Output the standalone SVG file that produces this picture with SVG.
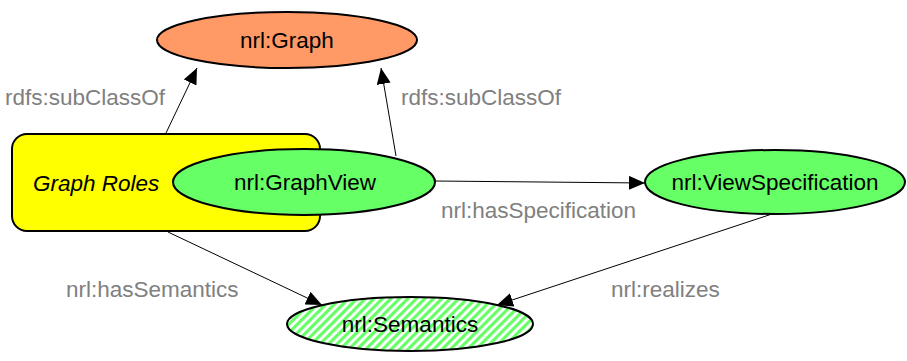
<svg xmlns="http://www.w3.org/2000/svg" width="907" height="361" viewBox="0 0 907 361">
<style>
.node{stroke:#000;stroke-width:2}
.lbl{font-family:"Liberation Sans",Arial,sans-serif;font-size:22.5px;fill:#000;text-anchor:middle}
.edge{stroke:#000;stroke-width:1;fill:none;marker-end:url(#arr)}
.elbl{font-family:"Liberation Sans",Arial,sans-serif;font-size:22.5px;fill:#808080}
</style>
<defs>
<marker id="arr" viewBox="0 0 16 14" refX="16" refY="7" markerWidth="16" markerHeight="14" markerUnits="userSpaceOnUse" orient="auto">
<path d="M0,0 L16,7 L0,14 z" fill="#000"/>
</marker>
<pattern id="hatch" patternUnits="userSpaceOnUse" width="6" height="6" patternTransform="rotate(45)">
<rect width="6" height="6" fill="#ffffff"/>
<rect width="3.2" height="6" fill="#66ff66"/>
</pattern>
</defs>
<g id="edges">
<line class="edge" x1="166" y1="133" x2="197" y2="68"/>
<line class="edge" x1="396" y1="156" x2="381" y2="68"/>
<line class="edge" x1="435" y1="181" x2="645" y2="183"/>
<line class="edge" x1="168" y1="232" x2="322" y2="305"/>
<line class="edge" x1="772" y1="214" x2="497" y2="305"/>
<text class="elbl" x="5" y="105">rdfs:subClassOf</text>
<text class="elbl" x="401" y="105">rdfs:subClassOf</text>
<text class="elbl" x="441" y="218">nrl:hasSpecification</text>
<text class="elbl" x="66" y="297">nrl:hasSemantics</text>
<text class="elbl" x="611" y="297">nrl:realizes</text>
</g>
<g id="graph">
<ellipse class="node" cx="287" cy="40" rx="130" ry="28" fill="#ff9966"/>
<text class="lbl" x="287" y="48">nrl:Graph</text>
</g>
<g id="graphroles">
<rect class="node" x="12" y="134" width="308" height="97" rx="15" fill="#ffff00"/>
<text class="lbl" x="33" y="191" font-style="italic" style="text-anchor:start">Graph Roles</text>
</g>
<g id="graphview">
<ellipse class="node" cx="304" cy="182" rx="131" ry="33" fill="#66ff66"/>
<text class="lbl" x="305" y="190">nrl:GraphView</text>
</g>
<g id="viewspec">
<ellipse class="node" cx="775" cy="182" rx="130" ry="32" fill="#66ff66"/>
<text class="lbl" x="775" y="190">nrl:ViewSpecification</text>
</g>
<g id="semantics">
<ellipse class="node" cx="410" cy="324" rx="123" ry="27" fill="url(#hatch)"/>
<text class="lbl" x="410" y="332">nrl:Semantics</text>
</g>
</svg>
